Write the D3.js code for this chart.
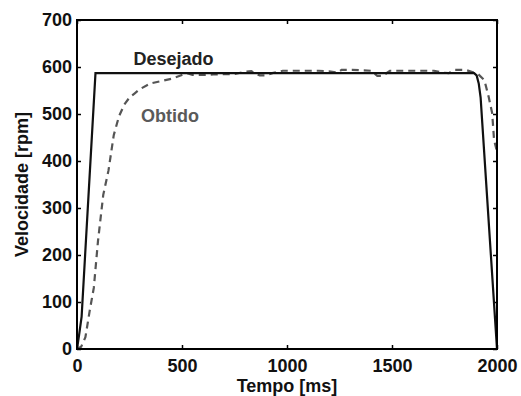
<!DOCTYPE html>
<html>
<head>
<meta charset="utf-8">
<script src="https://cdn.jsdelivr.net/npm/d3@7"></script>
<style>
  body { margin: 0; background: #fff; }
  svg text { font-family: "Liberation Sans", Arial, sans-serif; font-weight: bold; }
</style>
</head>
<body>
<div id="chart"></div>
<script>
// reference speed (Desejado)
var desejadoT = [0, 10, 22, 88, 1891, 1903, 1913, 1922, 1930, 2000];
var desejadoV = [0, 30, 69, 587, 587, 582, 565, 535, 480, 0];

// measured speed (Obtido)
var obtidoT = [0, 20, 40, 60, 80, 100, 125, 150, 175, 200, 225, 250, 275, 300, 350, 400, 450,
  500, 525, 550, 600, 650, 700, 750, 800, 830, 870, 900, 930, 980, 1050, 1100, 1150, 1200,
  1240, 1260, 1310, 1350, 1400, 1430, 1455, 1490, 1550, 1600, 1650, 1700, 1740, 1770, 1800,
  1850, 1890, 1910, 1940, 1960, 1977, 1986, 2000];
var obtidoV = [0, 5, 25, 80, 130, 230, 328, 380, 455, 495, 520, 535, 544, 553, 565, 570, 575,
  583, 587, 583, 583, 584, 585, 585, 590, 591, 582, 582, 587, 592, 592, 592, 592, 591,
  588, 594, 594, 593, 592, 581, 581, 592, 592, 592, 592, 592, 588, 587, 594,
  594, 588, 585, 572, 537, 502, 445, 420];

var xTicks = [0, 500, 1000, 1500, 2000];
var yTicks = [0, 100, 200, 300, 400, 500, 600, 700];

var margin = { top: 20, right: 24, bottom: 47, left: 77 };
var width = 521 - margin.left - margin.right;
var height = 396 - margin.top - margin.bottom;

var svg = d3
  .select("#chart")
  .append("svg")
  .attr("width", 521)
  .attr("height", 396)
  .append("g")
  .attr("transform", "translate(" + margin.left + "," + margin.top + ")");

var x = d3.scaleLinear().domain([0, 2000]).range([0, width]);
var y = d3.scaleLinear().domain([0, 700]).range([height, 0]);

function styleAxis(g) {
  g.select(".domain").remove();
  g.selectAll("line").attr("stroke", "#000").attr("stroke-width", 1.5);
  g.selectAll("text").style("font-size", "18px").attr("fill", "#111");
}

svg
  .append("g")
  .attr("transform", "translate(0," + height + ")")
  .call(d3.axisBottom(x).tickValues(xTicks).tickFormat(d3.format("d")).tickSize(-4).tickPadding(10))
  .call(styleAxis);

svg
  .append("g")
  .call(d3.axisTop(x).tickValues(xTicks).tickSize(-4).tickFormat(""))
  .call(styleAxis);

svg
  .append("g")
  .call(d3.axisLeft(y).tickValues(yTicks).tickFormat(d3.format("d")).tickSize(-4).tickPadding(5))
  .call(styleAxis);

svg
  .append("g")
  .attr("transform", "translate(" + width + ",0)")
  .call(d3.axisRight(y).tickValues(yTicks).tickSize(-4).tickFormat(""))
  .call(styleAxis);

var line = d3
  .line()
  .x(function (d) { return x(d[0]); })
  .y(function (d) { return y(d[1]); });

var obtido = obtidoT.map(function (t, i) { return [t, obtidoV[i]]; });
var desejado = desejadoT.map(function (t, i) { return [t, desejadoV[i]]; });

svg
  .append("path")
  .datum(obtido)
  .attr("d", line)
  .attr("fill", "none")
  .attr("stroke", "#555")
  .attr("stroke-width", 2.2)
  .attr("stroke-dasharray", "7,5");

svg
  .append("path")
  .datum(desejado)
  .attr("d", line)
  .attr("fill", "none")
  .attr("stroke", "#111")
  .attr("stroke-width", 2.2);

// frame
svg
  .append("rect")
  .attr("width", width)
  .attr("height", height)
  .attr("fill", "none")
  .attr("stroke", "#000")
  .attr("stroke-width", 2);

// labels on the curves
svg
  .append("text")
  .attr("x", x(460))
  .attr("y", 45)
  .attr("text-anchor", "middle")
  .style("font-size", "18px")
  .attr("fill", "#222")
  .text("Desejado");

svg
  .append("text")
  .attr("x", x(443))
  .attr("y", 101.5)
  .attr("text-anchor", "middle")
  .style("font-size", "18px")
  .attr("fill", "#5a5a5a")
  .text("Obtido");

// axis titles
svg
  .append("text")
  .attr("x", width / 2)
  .attr("y", height + 43)
  .attr("text-anchor", "middle")
  .style("font-size", "18px")
  .attr("fill", "#111")
  .text("Tempo [ms]");

svg
  .append("text")
  .attr("transform", "translate(-49," + height / 2 + ")rotate(-90)")
  .attr("text-anchor", "middle")
  .style("font-size", "18px")
  .attr("fill", "#111")
  .text("Velocidade [rpm]");
</script>
</body>
</html>
